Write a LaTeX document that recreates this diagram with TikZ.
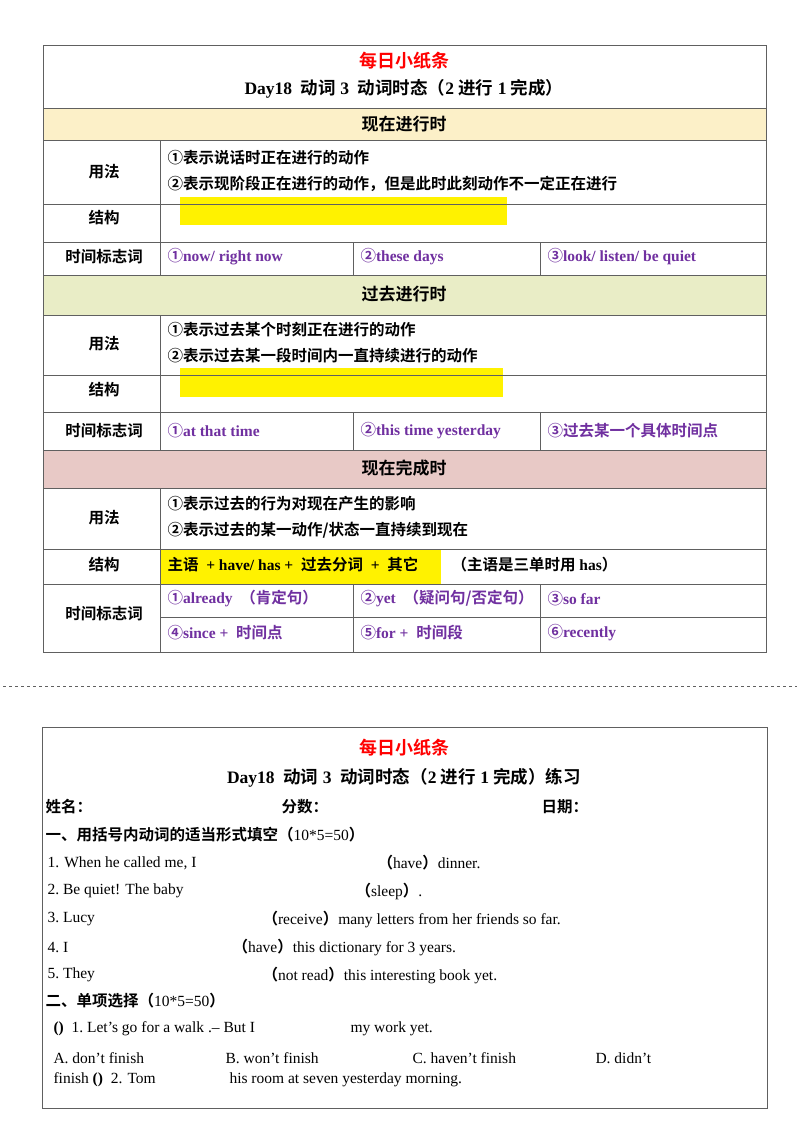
\documentclass[tikz,border=0pt]{standalone}
\usepackage{fontspec}
\setmainfont{Liberation Serif}
\newfontfamily\zhf{Noto Sans CJK SC}[BoldFont={Noto Sans CJK SC Bold}]
\newcommand{\zh}[1]{{\zhf\bfseries #1}}
\definecolor{pur}{HTML}{7030A0}
\definecolor{hA}{HTML}{FCF0C8}
\definecolor{hB}{HTML}{E9EDC6}
\definecolor{hC}{HTML}{E8C9C6}
\definecolor{ln}{HTML}{606060}
\begin{document}
\begin{tikzpicture}[x=1pt,y=-1pt,
  lab/.style={font=\fontsize{15.5}{17}\selectfont\zhf\bfseries},
  hd/.style={font=\fontsize{17}{19}\selectfont\zhf\bfseries},
  tx/.style={anchor=west,font=\fontsize{15.5}{17}\selectfont\bfseries},
  pt/.style={anchor=west,text=pur,font=\fontsize{15.5}{17}\selectfont\bfseries},
  ex/.style={anchor=west,font=\fontsize{15.5}{17}\selectfont},
  grid/.style={draw=ln,line width=0.9pt}]
\useasboundingbox (0,0) rectangle (800,1132);
\fill[white] (0,0) rectangle (800,1132);
% header fills
\fill[hA] (43,108) rectangle (766,140);
\fill[hB] (43,275) rectangle (766,315);
\fill[hC] (43,450) rectangle (766,488);
% yellow
\fill[yellow] (180,197) rectangle (507,225);
\fill[yellow] (180,368) rectangle (503,397);
\fill[yellow] (160,549) rectangle (441,584);
% grid
\draw[grid] (43,45) rectangle (766,652);
\foreach \y in {108,140,204,242,275,315,375,412,450,488,549,584} \draw[grid] (43,\y)--(766,\y);
\draw[grid] (160,617)--(766,617);
\foreach \a/\b in {140/275,315/450,488/652} \draw[grid] (160,\a)--(160,\b);
\foreach \a/\b in {242/275,412/450,584/652} {\draw[grid] (353,\a)--(353,\b); \draw[grid] (540,\a)--(540,\b);}
% title
\node[text=red,font=\fontsize{18}{20}\selectfont\zhf\bfseries] (t1) at (404,61) {每日小纸条};
\node[font=\fontsize{17.5}{19}\selectfont\bfseries] (t2) at (404,89) {Day18\ \ \zh{动词} 3\ \ \zh{动词时态（}2 \zh{进行} 1 \zh{完成）}};
% section 1
\node[hd] (h1) at (404,124) {现在进行时};
\node[lab] (u1) at (104,172) {用法};
\node[tx] (u1a) at (164,158) {\zh{①表示说话时正在进行的动作}};
\node[tx] (u1b) at (164,184) {\zh{②表示现阶段正在进行的动作，但是此时此刻动作不一定正在进行}};
\node[lab] (s1) at (104,218) {结构};
\node[lab] (m1) at (104,257) {时间标志词};
\node[pt] (m1a) at (164,257) {\zh{①}now/\ right now};
\node[pt] (m1b) at (357,257) {\zh{②}these days};
\node[pt] (m1c) at (544,257) {\zh{③}look/\ listen/\ be quiet};
% section 2
\node[hd] (h2) at (404,294) {过去进行时};
\node[lab] (u2) at (104,344) {用法};
\node[tx] (u2a) at (164,330) {\zh{①表示过去某个时刻正在进行的动作}};
\node[tx] (u2b) at (164,356) {\zh{②表示过去某一段时间内一直持续进行的动作}};
\node[lab] (s2) at (104,390) {结构};
\node[lab] (m2) at (104,431) {时间标志词};
\node[pt] (m2a) at (164,431) {\zh{①}at that time};
\node[pt] (m2b) at (357,431) {\zh{②}this time yesterday};
\node[pt] (m2c) at (544,431) {\zh{③过去某一个具体时间点}};
% section 3
\node[hd] (h3) at (404,468) {现在完成时};
\node[lab] (u3) at (104,518) {用法};
\node[tx] (u3a) at (164,504) {\zh{①表示过去的行为对现在产生的影响}};
\node[tx] (u3b) at (164,530) {\zh{②表示过去的某一动作/状态一直持续到现在}};
\node[lab] (s3) at (104,565) {结构};
\node[tx] (s3a) at (164,565) {\zh{主语}\ \ + have/ has +\ \ \zh{过去分词}\ \ +\ \ \zh{其它}};
\node[tx] (s3b) at (448,565) {\zh{（主语是三单时用} has\zh{）}};
\node[lab] (m3) at (104,614) {时间标志词};
\node[pt] (m3a) at (164,599) {\zh{①}already\ \ \zh{（肯定句）}};
\node[pt] (m3b) at (357,599) {\zh{②}yet\ \ \zh{（疑问句/否定句）}};
\node[pt] (m3c) at (544,599) {\zh{③}so far};
\node[pt] (m3d) at (164,633) {\zh{④}since +\ \ \zh{时间点}};
\node[pt] (m3e) at (357,633) {\zh{⑤}for +\ \ \zh{时间段}};
\node[pt] (m3f) at (544,633) {\zh{⑥}recently};
% dashed divider
\draw[dashed,line width=0.9pt,ln] (3,686)--(797,686);
% bottom box
\draw[grid] (42,727) rectangle (767,1108);
\node[text=red,font=\fontsize{18}{20}\selectfont\zhf\bfseries] (b1) at (404,748) {每日小纸条};
\node[font=\fontsize{17.5}{19}\selectfont\bfseries] (b2) at (404,778) {Day18\ \ \zh{动词} 3\ \ \zh{动词时态（}2 \zh{进行} 1 \zh{完成）}\zh{练习}};
\node[lab,anchor=west] (n1) at (42,807) {姓名：};
\node[lab,anchor=west] (n2) at (278,807) {分数：};
\node[lab,anchor=west] (n3) at (538,807) {日期：};
\node[lab,anchor=west] (q1) at (42,835) {一、用括号内动词的适当形式填空（{\rmfamily\mdseries 10*5=50}）};
\node[ex] (e1) at (44,863) {1. When he\ called me, I};
\node[ex] (e1b) at (374,863) {\zh{（}have\zh{）}dinner.};
\node[ex] (e2) at (44,891) {2.\ Be quiet! The baby};
\node[ex] (e2b) at (352,891) {\zh{（}sleep\zh{）}.};
\node[ex] (e3) at (44,919) {3.\ Lucy};
\node[ex] (e3b) at (259,919) {\zh{（}receive\zh{）}many letters from her friends so far.};
\node[ex] (e4) at (44,947) {4.\ I};
\node[ex] (e4b) at (229,947) {\zh{（}have\zh{）}this dictionary for 3 years.};
\node[ex] (e5) at (44,975) {5.\ They};
\node[ex] (e5b) at (259,975) {\zh{（}not read\zh{）}this interesting book yet.};
\node[lab,anchor=west] (q2) at (42,1001) {二、单项选择（{\rmfamily\mdseries 10*5=50}）};
\node[ex] (c1) at (50,1029) {\textbf{()}\ \ 1.\ Let's go for a walk .-- But I};
\node[ex] (c1b) at (347,1029) {my work yet.};
\node[ex] (oa) at (50,1058) {A. don't finish};
\node[ex] (ob) at (222,1058) {B. won't finish};
\node[ex] (oc) at (409,1058) {C. haven't finish};
\node[ex] (od) at (592,1058) {D. didn't};
\node[ex] (c2) at (50,1080) {finish \textbf{()}\ \ 2. Tom};
\node[ex] (c2b) at (226,1080) {his room at seven yesterday morning.};
\end{tikzpicture}
\end{document}
